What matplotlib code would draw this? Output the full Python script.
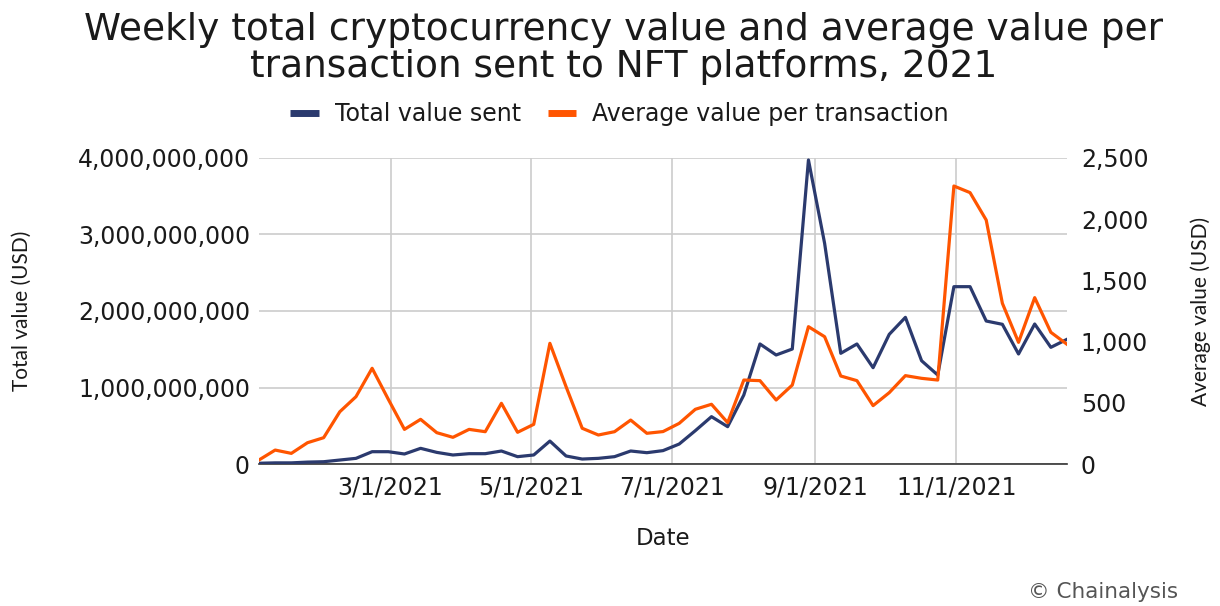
import numpy as np
import pandas as pd
import matplotlib
matplotlib.use("Agg")
import matplotlib.pyplot as plt
import matplotlib.dates as mdates
from matplotlib.lines import Line2D
from matplotlib.ticker import FuncFormatter

# weekly data
weeks = pd.date_range("2021-01-03", periods=51, freq="7D")

total_value = [
    10e6, 15e6, 15e6, 25e6, 30e6, 52e6, 74e6, 161e6, 161e6, 131e6,
    205e6, 152e6, 118e6, 135e6, 135e6, 170e6, 96e6, 118e6, 300e6, 105e6,
    65e6, 74e6, 96e6, 170e6, 148e6, 175e6, 261e6, 436e6, 619e6, 488e6,
    902e6, 1569e6, 1425e6, 1503e6, 3974e6, 2885e6, 1447e6, 1569e6, 1259e6, 1695e6,
    1917e6, 1350e6, 1163e6, 2318e6, 2318e6, 1869e6, 1826e6, 1438e6, 1830e6, 1525e6,
    1630e6,
]

avg_value = [
    33, 114, 87, 174, 215, 427, 550, 782, 529, 283,
    365, 256, 218, 283, 264, 496, 259, 324, 986, 632,
    292, 237, 264, 359, 251, 265, 332, 447, 488, 338,
    686, 681, 523, 645, 1122, 1040, 719, 681, 477, 583,
    722, 700, 686, 2271, 2217, 1993, 1313, 994, 1359, 1076,
    978,
]

left_ticks = [0, 1e9, 2e9, 3e9, 4e9]
right_ticks = [0, 500, 1000, 1500, 2000, 2500]
month_ticks = pd.to_datetime(["2021-03-01", "2021-05-01", "2021-07-01", "2021-09-01", "2021-11-01"])

navy = "#2b3a6e"
orange = "#ff5500"
grid_col = "#cccccc"
txt = "#1a1a1a"

plt.rcParams["font.family"] = ["DejaVu Sans"]

fig = plt.figure(figsize=(12.2, 6.06), dpi=100)
ax = fig.add_axes([0.2123, 0.2343, 0.6623, 0.505])
ax2 = ax.twinx()

ax.plot(weeks, total_value, color=navy, lw=2.3, zorder=3)
ax2.plot(weeks, avg_value, color=orange, lw=2.3, zorder=3)

ax.set_xlim(weeks[0], weeks[-1])
ax.set_ylim(0, 4e9)
ax2.set_ylim(0, 2500)
ax.set_yticks(left_ticks)
ax2.set_yticks(right_ticks)
ax.yaxis.set_major_formatter(FuncFormatter(lambda v, p: f"{int(v):,}"))
ax2.yaxis.set_major_formatter(FuncFormatter(lambda v, p: f"{int(v):,}"))
ax.set_xticks(month_ticks)
ax.xaxis.set_major_formatter(mdates.DateFormatter("%-m/%-d/%Y"))

ax.grid(True, color=grid_col, lw=1.2)
ax.set_axisbelow(True)
for a in (ax, ax2):
    for s in ("top", "left", "right"):
        a.spines[s].set_visible(False)
ax.spines["bottom"].set_color("#333333")
ax.spines["bottom"].set_linewidth(1.2)
ax2.spines["bottom"].set_visible(False)

ax.tick_params(axis="x", length=0, pad=8, labelsize=17, labelcolor=txt)
ax.tick_params(axis="y", length=0, pad=6.5, labelsize=17, labelcolor=txt)
ax2.tick_params(axis="y", length=0, pad=10, labelsize=17, labelcolor=txt)

ax.set_xlabel("Date", fontsize=16.5, color=txt, labelpad=20)
ax.set_ylabel("Total value (USD)", fontsize=15, color=txt, labelpad=33, family="Lato")
ax2.set_ylabel("Average value (USD)", fontsize=15, color=txt, labelpad=30, family="Lato")

fig.suptitle("Weekly total cryptocurrency value and average value per\ntransaction sent to NFT platforms, 2021",
             x=0.511, fontsize=27, color=txt, y=0.981, linespacing=1.05)

handles = [Line2D([], [], color=navy, lw=5, solid_capstyle="butt"),
           Line2D([], [], color=orange, lw=5, solid_capstyle="butt")]
fig.legend(handles, ["Total value sent", "Average value per transaction"], loc="center",
           bbox_to_anchor=(0.508, 0.812), ncol=2, frameon=False, fontsize=17,
           handlelength=1.2, columnspacing=1.15, handletextpad=0.68, labelcolor=txt)

fig.text(0.966, 0.006, "© Chainalysis", ha="right", va="bottom", fontsize=15.5, color="#555555")

fig.savefig("out.png", dpi=100)
